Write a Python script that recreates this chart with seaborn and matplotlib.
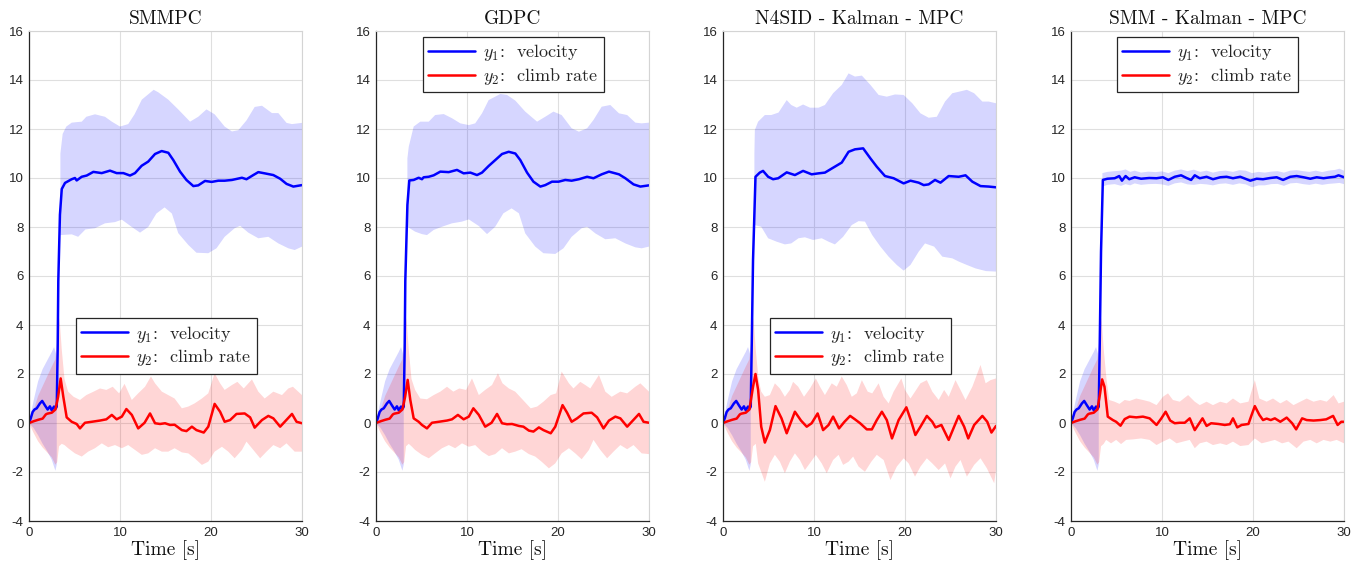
import numpy as np
import matplotlib
matplotlib.use("Agg")
import matplotlib.pyplot as plt
from matplotlib.lines import Line2D
import seaborn as sns

# ------------------------------------------------------------------ data
titles = ["SMMPC", "GDPC", "N4SID - Kalman - MPC", "SMM - Kalman - MPC"]
legend_labels = [r"$y_1$:  velocity", r"$y_2$:  climb rate"]
x_ticks = [0, 10, 20, 30]
y_ticks = [-4, -2, 0, 2, 4, 6, 8, 10, 12, 14, 16]
x_label = "Time [s]"

# common start of all four runs (t < ~3 s)
e_y1_t = [0.0, 0.2, 0.4, 0.6, 0.85, 1.2, 1.45, 1.75, 2.05, 2.3, 2.5, 2.75, 2.95, 3.05]
e_y1 = [0.0, 0.2, 0.45, 0.55, 0.6, 0.8, 0.9, 0.72, 0.55, 0.68, 0.52, 0.67, 0.6, 0.67]
e_y1_up_t = [0.0, 0.5, 1.0, 1.5, 2.0, 2.5, 2.75, 3.0, 3.05]
e_y1_up = [0.0, 0.9, 1.7, 2.2, 2.55, 2.9, 3.1, 2.8, 2.7]
e_y1_lo_t = [0.0, 0.5, 1.0, 1.5, 2.0, 2.5, 2.9, 3.05]
e_y1_lo = [0.0, -0.2, -0.5, -0.85, -1.15, -1.5, -1.95, -1.7]
e_y2_t = [0.0, 0.5, 1.0, 1.5, 1.85, 2.0, 2.5, 2.9]
e_y2 = [0.0, 0.07, 0.13, 0.18, 0.35, 0.38, 0.42, 0.55]
e_y2_up_t = [0.0, 0.5, 1.0, 1.5, 2.0, 2.5, 2.9, 3.15, 3.35, 3.6, 3.9]
e_y2_up = [0.0, 0.5, 1.1, 1.5, 1.9, 2.3, 2.6, 3.5, 4.3, 3.0, 1.8]
e_y2_lo_t = [0.0, 0.5, 1.0, 1.5, 2.0, 2.5, 2.9, 3.1, 3.3, 3.6]
e_y2_lo = [0.0, -0.4, -0.75, -1.0, -1.2, -1.4, -1.7, -1.6, -0.95, -0.85]

# ---- SMMPC
p1_y1_t = [3.15, 3.22, 3.4, 3.6, 3.96, 4.69, 5.05, 5.24, 5.79, 6.34, 7.07, 7.99, 8.9, 9.63, 10.37,
           11.1, 11.65, 12.38, 13.1, 13.85, 14.58, 15.31, 15.86, 16.6, 17.3, 18.06, 18.6, 19.34,
           20.07, 20.8, 21.5, 22.3, 23.4, 23.9, 24.65, 25.2, 25.9, 26.85, 27.6, 28.3, 29.05, 30.0]
p1_y1 = [3.0, 5.8, 8.5, 9.55, 9.8, 9.95, 10.0, 9.9, 10.05, 10.1, 10.25, 10.2, 10.3, 10.2, 10.2,
         10.1, 10.2, 10.5, 10.67, 10.98, 11.1, 11.03, 10.73, 10.26, 9.92, 9.67, 9.7, 9.88,
         9.84, 9.89, 9.89, 9.92, 10.01, 9.95, 10.12, 10.24, 10.19, 10.12, 9.97, 9.76, 9.65, 9.71]
p1_y1_up_t = [3.45, 3.7, 4.1, 4.7, 5.8, 6.3, 7.25, 8.35, 9.1, 10.0, 10.9, 11.6, 12.4, 13.7, 14.2,
              15.3, 16.4, 17.7, 18.6, 19.5, 20.4, 21.5, 22.3, 23.0, 23.9, 24.8, 25.6, 26.7, 27.4,
              28.3, 28.9, 30.0]
p1_y1_up = [11.0, 11.8, 12.1, 12.26, 12.3, 12.5, 12.6, 12.5, 12.3, 12.1, 12.2, 12.6, 13.2, 13.6, 13.5,
            13.2, 12.8, 12.3, 12.5, 12.8, 12.6, 12.1, 11.9, 11.95, 12.35, 12.9, 12.95, 12.65, 12.65,
            12.25, 12.2, 12.25]
p1_y1_lo_t = [3.45, 4.7, 5.4, 6.2, 7.25, 8.35, 9.45, 10.2, 11.3, 12.2, 13.1, 14.0, 14.9, 15.7, 16.4,
              17.5, 18.4, 19.7, 20.6, 21.5, 22.6, 23.2, 24.1, 25.2, 26.3, 27.4, 28.5, 29.2, 30.0]
p1_y1_lo = [7.67, 7.7, 7.6, 7.9, 7.95, 8.15, 8.2, 8.3, 8.0, 7.77, 8.0, 8.55, 8.8, 8.55, 7.75,
            7.27, 6.95, 6.93, 7.13, 7.6, 7.95, 8.05, 7.77, 7.54, 7.6, 7.33, 7.13, 7.06, 7.2]
p1_y2_t = [3.2, 3.48, 3.77, 4.14, 4.69, 5.24, 5.6, 6.15, 6.9, 7.8, 8.5, 9.1, 9.63, 10.2, 10.7,
           11.3, 12.0, 12.7, 13.3, 13.85, 14.4, 14.95, 15.5, 16.0, 16.8, 17.3, 17.9, 18.4, 19.2,
           19.7, 20.4, 21.0, 21.5, 22.1, 22.8, 23.7, 24.3, 24.8, 25.6, 26.3, 26.85, 27.6, 28.1,
           28.9, 29.4, 30.0]
p1_y2 = [1.07, 1.82, 1.07, 0.23, 0.05, -0.04, -0.22, 0.01, 0.05, 0.1, 0.15, 0.33, 0.15, 0.26, 0.57,
         0.33, -0.22, 0.01, 0.39, -0.01, -0.04, -0.01, -0.08, -0.07, -0.29, -0.33, -0.15, -0.29, -0.39,
         -0.15, 0.78, 0.46, 0.05, 0.12, 0.37, 0.39, 0.23, -0.19, 0.12, 0.29, 0.19, -0.15, 0.05,
         0.37, 0.05, -0.01]
p1_y2_up_t = [4.3, 4.9, 5.6, 6.3, 7.1, 7.8, 8.5, 9.2, 9.9, 10.5, 11.3, 12.0, 12.75, 13.4, 13.85,
              14.6, 15.3, 16.0, 16.8, 17.5, 18.2, 19.0, 19.7, 20.4, 21.0, 21.5, 22.3, 22.9, 23.6,
              24.5, 25.2, 25.9, 26.85, 27.8, 28.5, 29.0, 30.0]
p1_y2_up = [1.28, 1.07, 0.94, 1.14, 1.28, 1.41, 1.35, 1.48, 1.21, 1.6, 0.94, 1.21, 1.48, 1.9, 1.62,
            1.28, 1.14, 1.0, 0.6, 0.67, 0.8, 1.0, 1.21, 2.03, 1.62, 1.35, 1.55, 1.68, 1.41,
            1.78, 1.28, 1.0, 1.28, 1.14, 1.41, 1.48, 1.14]
p1_y2_lo_t = [3.9, 4.3, 5.05, 5.8, 6.5, 7.25, 8.0, 8.7, 9.45, 10.2, 10.9, 11.65, 12.4, 13.1, 13.85,
              14.6, 15.3, 16.0, 16.8, 17.5, 18.2, 19.0, 19.7, 20.4, 21.2, 21.9, 22.6, 23.4, 23.9,
              24.65, 25.4, 26.1, 26.85, 27.6, 28.3, 29.2, 30.0]
p1_y2_lo = [-0.9, -1.03, -1.24, -1.37, -1.17, -1.03, -0.83, -0.99, -0.9, -1.03, -0.9, -1.1, -1.3, -1.24, -1.03,
            -1.17, -1.17, -1.03, -1.2, -1.24, -1.44, -1.71, -1.58, -1.17, -0.97, -1.17, -1.44, -1.1, -0.76,
            -1.1, -1.44, -1.17, -0.9, -1.03, -0.83, -1.17, -1.17]

# ---- GDPC
p2_y1_t = [3.15, 3.22, 3.45, 3.66, 4.14, 4.69, 5.05, 5.24, 5.79, 6.34, 7.07, 7.99, 8.9, 9.63, 10.37,
           11.1, 11.65, 12.38, 13.1, 13.85, 14.58, 15.31, 15.86, 16.6, 17.3, 18.06, 18.6, 19.34,
           20.07, 20.8, 21.5, 22.3, 23.2, 23.9, 24.8, 25.6, 26.7, 27.4, 28.3, 29.05, 30.0]
p2_y1 = [3.0, 5.8, 8.9, 9.9, 9.92, 10.01, 9.95, 10.03, 10.05, 10.11, 10.26, 10.24, 10.33, 10.19, 10.22,
         10.12, 10.22, 10.49, 10.73, 10.98, 11.07, 11.0, 10.73, 10.22, 9.85, 9.65, 9.71, 9.85,
         9.85, 9.92, 9.89, 9.95, 10.05, 9.99, 10.15, 10.26, 10.15, 9.99, 9.74, 9.65, 9.7]
p2_y1_up_t = [3.45, 3.6, 4.14, 4.87, 5.8, 6.5, 7.44, 8.35, 9.27, 10.2, 10.9, 11.65, 12.38, 13.66, 14.4,
              15.31, 16.4, 17.7, 18.6, 19.5, 20.4, 21.5, 22.3, 23.2, 23.9, 24.8, 25.75, 26.7, 27.6,
              28.5, 29.2, 30.0]
p2_y1_up = [10.8, 11.28, 12.1, 12.3, 12.3, 12.57, 12.61, 12.44, 12.23, 12.16, 12.23, 12.64, 13.18, 13.43, 13.39,
            13.16, 12.71, 12.3, 12.5, 12.71, 12.57, 12.03, 11.89, 12.03, 12.37, 12.91, 12.98, 12.64, 12.57,
            12.26, 12.23, 12.26]
p2_y1_lo_t = [3.45, 4.3, 5.05, 5.6, 6.34, 7.25, 8.35, 9.45, 10.2, 11.3, 12.2, 13.1, 14.0, 14.9, 15.7,
              16.4, 17.5, 18.4, 19.7, 20.6, 21.5, 22.6, 23.2, 24.1, 25.2, 26.3, 27.4, 28.5, 29.2, 30.0]
p2_y1_lo = [8.01, 7.81, 7.71, 7.67, 7.88, 8.01, 8.15, 8.22, 8.31, 8.04, 7.71, 8.01, 8.56, 8.76, 8.56,
            7.74, 7.2, 6.93, 6.9, 7.13, 7.6, 7.95, 8.01, 7.74, 7.5, 7.54, 7.33, 7.17, 7.13, 7.2]
p2_y2_t = [3.2, 3.48, 3.77, 4.14, 4.69, 5.05, 5.6, 6.15, 6.9, 7.8, 8.35, 9.0, 9.63, 10.2, 10.7,
           11.3, 12.0, 12.7, 13.3, 13.85, 14.4, 14.95, 15.7, 16.2, 16.8, 17.3, 17.9, 18.4, 19.2,
           19.7, 20.5, 21.0, 21.5, 22.1, 22.8, 23.7, 24.3, 25.0, 25.6, 26.3, 26.85, 27.6, 28.1,
           28.9, 29.4, 30.0]
p2_y2 = [1.07, 1.76, 0.94, 0.19, 0.05, -0.08, -0.22, 0.01, 0.05, 0.1, 0.15, 0.33, 0.15, 0.26, 0.6,
         0.33, -0.15, 0.01, 0.37, -0.01, -0.05, -0.04, -0.12, -0.15, -0.31, -0.35, -0.18, -0.29, -0.42,
         -0.15, 0.73, 0.42, 0.05, 0.19, 0.39, 0.42, 0.23, -0.22, 0.1, 0.26, 0.19, -0.15, 0.05,
         0.37, 0.05, 0.01]
p2_y2_up_t = [4.3, 4.87, 5.6, 6.34, 7.07, 7.8, 8.5, 9.15, 9.9, 10.55, 11.3, 12.0, 12.75, 13.4, 13.9,
              14.6, 15.3, 16.0, 17.0, 17.7, 18.4, 19.2, 19.8, 20.4, 21.2, 21.7, 22.45, 23.0, 23.55,
              24.5, 25.2, 25.9, 26.85, 27.6, 28.5, 29.05, 30.0]
p2_y2_up = [1.35, 1.0, 0.97, 1.14, 1.28, 1.48, 1.28, 1.41, 1.35, 1.82, 1.14, 1.35, 1.55, 2.03, 1.62,
            1.41, 1.28, 1.0, 0.6, 0.67, 0.87, 1.14, 1.21, 2.1, 1.62, 1.41, 1.68, 1.55, 1.41,
            1.96, 1.28, 1.07, 1.28, 1.21, 1.48, 1.62, 1.28]
p2_y2_lo_t = [3.9, 4.3, 5.05, 5.8, 6.5, 7.25, 8.0, 8.7, 9.45, 10.2, 10.9, 11.65, 12.4, 13.1, 13.85,
              14.6, 15.3, 16.0, 16.8, 17.5, 18.2, 19.0, 19.7, 20.4, 21.2, 21.9, 22.6, 23.4, 23.9,
              24.65, 25.4, 26.1, 26.85, 27.6, 28.3, 29.2, 30.0]
p2_y2_lo = [-0.95, -1.1, -1.3, -1.44, -1.24, -1.03, -0.9, -1.03, -0.83, -0.97, -0.9, -1.17, -1.35, -1.27, -1.03,
            -1.24, -1.17, -1.07, -1.27, -1.37, -1.58, -1.85, -1.65, -1.24, -1.03, -1.24, -1.48, -1.1, -0.69,
            -1.1, -1.44, -1.17, -0.9, -1.07, -0.9, -1.24, -1.27]

# ---- N4SID - Kalman - MPC
p3_y1_t = [3.15, 3.3, 3.57, 4.04, 4.4, 4.96, 5.5, 6.07, 7.0, 7.9, 8.8, 9.74, 10.5, 11.2, 12.1,
           13.05, 13.8, 14.5, 15.4, 16.2, 16.9, 17.8, 18.75, 19.85, 20.6, 21.5, 22.06, 22.6, 23.3,
           23.9, 24.8, 25.9, 26.65, 27.4, 28.3, 29.2, 30.0]
p3_y1 = [3.0, 6.65, 10.05, 10.22, 10.29, 10.05, 9.95, 9.99, 10.23, 10.12, 10.29, 10.15, 10.19, 10.22, 10.42,
         10.63, 11.07, 11.17, 11.21, 10.8, 10.46, 10.08, 9.99, 9.78, 9.89, 9.81, 9.71, 9.74, 9.92,
         9.81, 10.08, 10.05, 10.11, 9.85, 9.67, 9.65, 9.62]
p3_y1_up_t = [3.45, 3.5, 3.86, 4.6, 5.3, 6.1, 7.0, 7.5, 8.1, 8.8, 9.56, 10.5, 11.2, 12.1, 13.05,
              13.8, 14.5, 15.26, 16.2, 17.1, 18.0, 18.9, 19.85, 20.8, 21.7, 22.6, 23.5, 24.4, 25.2,
              25.9, 26.8, 27.6, 28.5, 29.2, 30.0]
p3_y1_up = [11.0, 11.96, 12.3, 12.57, 12.57, 12.67, 13.18, 12.98, 12.87, 13.0, 12.87, 12.87, 12.98, 13.46, 13.8,
            14.27, 14.14, 14.18, 13.8, 13.39, 13.32, 13.41, 13.39, 13.05, 12.64, 12.46, 12.5, 13.12, 13.46,
            13.52, 13.6, 13.46, 13.12, 13.12, 13.05]
p3_y1_lo_t = [3.45, 4.2, 4.96, 5.9, 6.8, 7.5, 8.3, 9.0, 9.9, 10.85, 11.6, 12.3, 13.2, 14.15, 14.9,
              15.6, 16.4, 17.3, 18.2, 19.1, 19.85, 20.6, 21.5, 22.2, 23.2, 24.1, 25.2, 25.9, 26.8,
              27.75, 28.9, 30.0]
p3_y1_lo = [8.08, 8.01, 7.54, 7.4, 7.29, 7.33, 7.54, 7.58, 7.47, 7.54, 7.4, 7.29, 7.6, 8.08, 8.24,
            8.22, 7.67, 7.2, 6.79, 6.45, 6.22, 6.45, 6.99, 7.33, 7.2, 6.79, 6.72, 6.59, 6.45,
            6.31, 6.2, 6.18]
p3_y2_t = [3.3, 3.57, 3.86, 4.2, 4.6, 5.15, 5.77, 6.43, 7.0, 7.9, 8.57, 9.2, 9.74, 10.4, 11.0,
           11.6, 12.1, 12.75, 13.35, 13.97, 14.5, 15.07, 15.8, 16.36, 16.9, 17.46, 18.0, 18.57, 19.3,
           20.15, 20.7, 21.14, 21.7, 22.4, 23.0, 23.35, 24.0, 24.8, 25.4, 25.9, 26.5, 26.95, 27.6,
           28.5, 29.04, 29.5, 30.0]
p3_y2 = [1.48, 2.0, 1.35, -0.15, -0.8, -0.29, 0.69, 0.19, -0.42, 0.46, 0.1, -0.15, -0.01, 0.39, -0.29,
         -0.08, 0.26, -0.22, 0.05, 0.29, 0.15, -0.01, -0.26, -0.26, 0.12, 0.46, 0.12, -0.63, 0.12,
         0.64, 0.05, -0.49, -0.15, 0.29, 0.05, -0.18, -0.08, -0.69, -0.15, 0.29, -0.15, -0.63, -0.08,
         0.29, 0.05, -0.39, -0.12]
p3_y2_up_t = [4.2, 4.6, 5.15, 5.7, 6.25, 6.8, 7.35, 7.7, 8.27, 8.9, 9.56, 10.2, 10.66, 11.2, 11.95,
              12.5, 13.05, 13.6, 14.15, 14.7, 15.26, 15.9, 16.4, 17.1, 17.65, 18.2, 18.75, 19.6, 20.0,
              20.6, 21.1, 21.7, 22.4, 23.0, 23.7, 24.3, 24.8, 25.55, 26.1, 26.65, 27.4, 28.3, 28.86,
              29.4, 30.0]
p3_y2_up = [1.28, 1.07, 1.14, 1.62, 1.41, 1.07, 1.35, 1.68, 1.48, 1.07, 1.41, 1.82, 1.48, 1.14, 1.62,
            1.48, 1.9, 1.55, 1.07, 1.21, 1.75, 1.28, 1.21, 1.62, 1.07, 0.8, 1.28, 1.82, 1.35,
            1.0, 1.28, 1.62, 1.75, 1.28, 0.94, 1.35, 1.07, 1.75, 1.35, 0.94, 1.48, 2.37, 1.62,
            1.75, 1.82]
p3_y2_lo_t = [3.86, 4.6, 5.15, 5.7, 6.25, 6.8, 7.35, 7.9, 8.45, 9.0, 9.67, 10.2, 10.85, 11.4, 12.1,
              12.7, 13.2, 13.8, 14.3, 14.9, 15.6, 16.3, 16.9, 17.65, 18.4, 19.1, 19.85, 20.4, 21.1,
              21.7, 22.4, 23.0, 23.7, 24.4, 25.0, 25.55, 26.1, 26.8, 27.6, 28.3, 29.0, 29.8, 30.0]
p3_y2_lo = [-1.65, -2.4, -1.65, -1.3, -1.58, -2.05, -1.58, -1.24, -1.51, -1.92, -1.58, -1.3, -1.65, -2.05, -1.51,
            -1.3, -1.71, -1.58, -1.37, -1.78, -1.99, -1.58, -1.3, -1.51, -2.33, -1.78, -1.44, -1.65, -2.19,
            -1.78, -1.44, -1.65, -1.92, -1.65, -2.26, -1.78, -1.51, -2.19, -1.71, -1.44, -1.85, -2.46, -1.92]

# ---- SMM - Kalman - MPC
p4_y1_t = [3.15, 3.3, 3.5, 4.0, 4.8, 5.3, 5.6, 6.0, 6.4, 7.0, 7.7, 8.6, 9.4, 10.1, 10.7,
           11.4, 12.1, 12.7, 13.2, 13.6, 14.15, 14.9, 15.6, 16.4, 17.1, 17.8, 18.6, 19.7, 20.4,
           21.1, 21.9, 22.6, 23.3, 24.1, 24.8, 25.55, 26.3, 27.0, 27.75, 28.5, 29.0, 29.4, 30.0]
p4_y1 = [3.0, 7.0, 9.92, 9.97, 9.99, 10.08, 9.89, 10.08, 9.95, 10.03, 9.97, 10.0, 9.99, 10.03, 9.92,
         10.05, 10.11, 10.0, 9.92, 10.11, 9.99, 10.05, 9.95, 10.03, 10.05, 9.99, 10.05, 9.89, 9.97,
         9.95, 10.0, 10.03, 9.92, 10.05, 10.08, 10.03, 9.97, 10.03, 9.99, 10.03, 10.05, 10.11, 10.03]
p4_y1_band_t = [3.45, 4.0, 4.8, 5.5, 6.0, 6.5, 7.0, 7.7, 8.5, 9.3, 10.0, 10.7, 11.4, 12.1, 12.8,
                13.5, 14.2, 14.9, 15.6, 16.3, 17.0, 17.8, 18.5, 19.2, 19.9, 20.6, 21.3, 22.0, 22.7,
                23.4, 24.1, 24.8, 25.5, 26.2, 26.9, 27.6, 28.3, 29.0, 29.5, 30.0]
p4_y1_up = [10.2, 10.25, 10.28, 10.3, 10.35, 10.25, 10.3, 10.22, 10.26, 10.24, 10.27, 10.2, 10.3, 10.35, 10.28,
            10.34, 10.25, 10.3, 10.22, 10.28, 10.3, 10.25, 10.32, 10.3, 10.2, 10.25, 10.22, 10.26, 10.28,
            10.22, 10.3, 10.32, 10.28, 10.25, 10.3, 10.24, 10.3, 10.33, 10.38, 10.3]
p4_y1_lo = [9.65, 9.72, 9.75, 9.68, 9.75, 9.7, 9.78, 9.72, 9.75, 9.76, 9.74, 9.68, 9.78, 9.82, 9.74,
            9.72, 9.76, 9.74, 9.7, 9.76, 9.78, 9.72, 9.78, 9.74, 9.62, 9.7, 9.7, 9.75, 9.76,
            9.68, 9.78, 9.8, 9.75, 9.72, 9.77, 9.72, 9.76, 9.78, 9.8, 9.75]
p4_y2_t = [3.2, 3.42, 3.68, 4.04, 4.6, 4.96, 5.44, 5.9, 6.43, 7.17, 7.9, 8.64, 9.4, 9.93, 10.4,
           10.9, 11.4, 11.95, 12.5, 13.05, 13.6, 13.97, 14.45, 14.9, 15.4, 16.2, 16.9, 17.46, 17.8,
           18.27, 18.75, 19.5, 19.85, 20.2, 20.7, 21.1, 21.5, 21.95, 22.4, 23.0, 23.7, 24.3, 24.74,
           25.4, 25.9, 26.65, 27.4, 28.05, 28.8, 29.3, 29.7, 30.0]
p4_y2 = [1.21, 1.78, 1.48, 0.26, 0.12, 0.05, -0.11, 0.16, 0.26, 0.23, 0.26, 0.19, -0.08, 0.19, 0.46,
         0.1, -0.01, 0.01, 0.01, 0.19, -0.29, -0.08, 0.19, -0.12, -0.01, -0.04, -0.08, -0.05, 0.19,
         -0.18, -0.08, -0.04, 0.33, 0.69, 0.33, 0.12, 0.18, 0.12, 0.19, 0.05, 0.22, -0.01, -0.26,
         0.19, 0.12, 0.1, 0.12, 0.15, 0.29, -0.08, 0.05, 0.05]
p4_y2_up_t = [4.2, 4.78, 5.33, 5.9, 6.43, 7.17, 7.9, 8.64, 9.4, 10.1, 10.66, 11.2, 11.95, 12.87, 13.6,
              14.15, 14.9, 15.6, 16.4, 17.1, 17.8, 18.6, 19.5, 20.2, 20.7, 21.5, 22.2, 23.0, 23.7,
              24.45, 25.2, 25.9, 26.65, 27.4, 28.1, 28.86, 29.4, 30.0]
p4_y2_up = [0.94, 0.87, 0.78, 0.94, 0.9, 1.0, 0.94, 0.87, 0.73, 1.07, 1.21, 0.94, 0.87, 1.14, 0.87,
            0.73, 0.87, 0.73, 0.87, 0.8, 1.0, 0.8, 0.87, 1.75, 1.0, 0.87, 1.0, 0.8, 0.94,
            0.73, 0.87, 1.0, 0.87, 0.94, 0.87, 1.14, 0.8, 0.87]
p4_y2_lo_t = [3.86, 4.4, 4.96, 5.5, 6.07, 6.8, 7.7, 8.64, 9.4, 10.1, 10.85, 11.6, 12.3, 13.05, 13.6,
              14.15, 14.9, 15.6, 16.4, 17.1, 17.8, 18.6, 19.5, 20.2, 20.95, 21.7, 22.4, 23.2, 23.9,
              24.8, 25.55, 26.3, 27.0, 27.75, 28.5, 29.2, 30.0]
p4_y2_lo = [-0.69, -0.83, -0.69, -0.86, -0.69, -0.67, -0.63, -0.69, -0.9, -0.76, -0.63, -0.83, -0.76, -0.69, -1.03,
            -0.83, -0.76, -0.9, -0.83, -0.9, -0.76, -0.94, -0.9, -0.63, -0.83, -0.76, -0.69, -0.83, -0.76,
            -1.03, -0.76, -0.69, -0.83, -0.69, -0.76, -0.69, -0.83]

# legend anchor (axes fraction) per panel
legend_anchor = [(0.172, 0.414), (0.172, 0.988), (0.172, 0.414), (0.168, 0.988)]

panels = [
    (p1_y1_t, p1_y1, p1_y1_up_t, p1_y1_up, p1_y1_lo_t, p1_y1_lo,
     p1_y2_t, p1_y2, p1_y2_up_t, p1_y2_up, p1_y2_lo_t, p1_y2_lo),
    (p2_y1_t, p2_y1, p2_y1_up_t, p2_y1_up, p2_y1_lo_t, p2_y1_lo,
     p2_y2_t, p2_y2, p2_y2_up_t, p2_y2_up, p2_y2_lo_t, p2_y2_lo),
    (p3_y1_t, p3_y1, p3_y1_up_t, p3_y1_up, p3_y1_lo_t, p3_y1_lo,
     p3_y2_t, p3_y2, p3_y2_up_t, p3_y2_up, p3_y2_lo_t, p3_y2_lo),
    (p4_y1_t, p4_y1, p4_y1_band_t, p4_y1_up, p4_y1_band_t, p4_y1_lo,
     p4_y2_t, p4_y2, p4_y2_up_t, p4_y2_up, p4_y2_lo_t, p4_y2_lo),
]

# ------------------------------------------------------------------ style
sns.set_theme(style="whitegrid")
plt.rcParams["font.family"] = ["Liberation Sans", "DejaVu Sans"]
plt.rcParams["mathtext.fontset"] = "cm"
plt.rcParams["axes.unicode_minus"] = False

BLUE = (0.0, 0.0, 1.0)
RED = (1.0, 0.0, 0.0)
ALPHA = 0.16
DARK = "#262626"
SERIF = "cmr10"

W, H = 1366, 571
fig = plt.figure(figsize=(W / 100, H / 100), dpi=100)
lefts = [29, 376, 723, 1071]
ax_w, ax_top, ax_bot = 273, 31, 521


def poly(t_up, v_up, t_lo, v_lo):
    x = np.concatenate([np.asarray(t_up, float), np.asarray(t_lo, float)[::-1]])
    y = np.concatenate([np.asarray(v_up, float), np.asarray(v_lo, float)[::-1]])
    return x, y


for i, (title, p) in enumerate(zip(titles, panels)):
    (y1_t, y1, y1u_t, y1u, y1l_t, y1l, y2_t, y2, y2u_t, y2u, y2l_t, y2l) = p
    ax = fig.add_axes([lefts[i] / W, (H - ax_bot) / H, ax_w / W, (ax_bot - ax_top) / H])

    # uncertainty bands
    ax.fill(*poly(e_y1_up_t, e_y1_up, e_y1_lo_t, e_y1_lo), color=BLUE, alpha=ALPHA, lw=0)
    ax.fill(*poly(y1u_t, y1u, y1l_t, y1l), color=BLUE, alpha=ALPHA, lw=0)
    ax.fill(*poly(e_y2_up_t + y2u_t, e_y2_up + y2u, e_y2_lo_t + y2l_t, e_y2_lo + y2l),
            color=RED, alpha=ALPHA, lw=0)

    # mean responses
    sns.lineplot(x=e_y1_t + y1_t, y=e_y1 + y1, ax=ax, color=BLUE, lw=1.8,
                 sort=False, estimator=None)
    sns.lineplot(x=e_y2_t + y2_t, y=e_y2 + y2, ax=ax, color=RED, lw=1.8,
                 sort=False, estimator=None)

    ax.set_xlim(0, 30)
    ax.set_ylim(-4, 16)
    ax.set_xticks(x_ticks)
    ax.set_yticks(y_ticks)
    ax.set_xticklabels([str(v) for v in x_ticks])
    ax.set_yticklabels([str(v) for v in y_ticks])
    ax.grid(True, color="#dfdfdf", lw=0.8)
    ax.set_axisbelow(True)
    for s in ["left", "bottom"]:
        ax.spines[s].set_color(DARK)
        ax.spines[s].set_linewidth(0.9)
    for s in ["top", "right"]:
        ax.spines[s].set_color("#d4d4d4")
        ax.spines[s].set_linewidth(0.8)
    ax.tick_params(direction="in", length=3.5, width=0.8, color=DARK,
                   labelsize=9.5, labelcolor=DARK, pad=4)
    ax.set_title(title, fontfamily=SERIF, fontsize=14, pad=5, color="#111111")
    ax.set_xlabel(x_label, fontfamily=SERIF, fontsize=14, labelpad=1, color="#111111")
    ax.set_ylabel("")

    handles = [Line2D([], [], color=BLUE, lw=1.8), Line2D([], [], color=RED, lw=1.8)]
    leg = ax.legend(handles, legend_labels, loc="upper left", bbox_to_anchor=legend_anchor[i],
                    prop={"family": SERIF, "size": 13}, frameon=True, fancybox=False,
                    framealpha=1, edgecolor=DARK, borderpad=0.3, labelspacing=0.15,
                    handlelength=2.6, handletextpad=0.45, borderaxespad=0)
    leg.get_frame().set_linewidth(0.9)

fig.savefig("out.png", dpi=100)
